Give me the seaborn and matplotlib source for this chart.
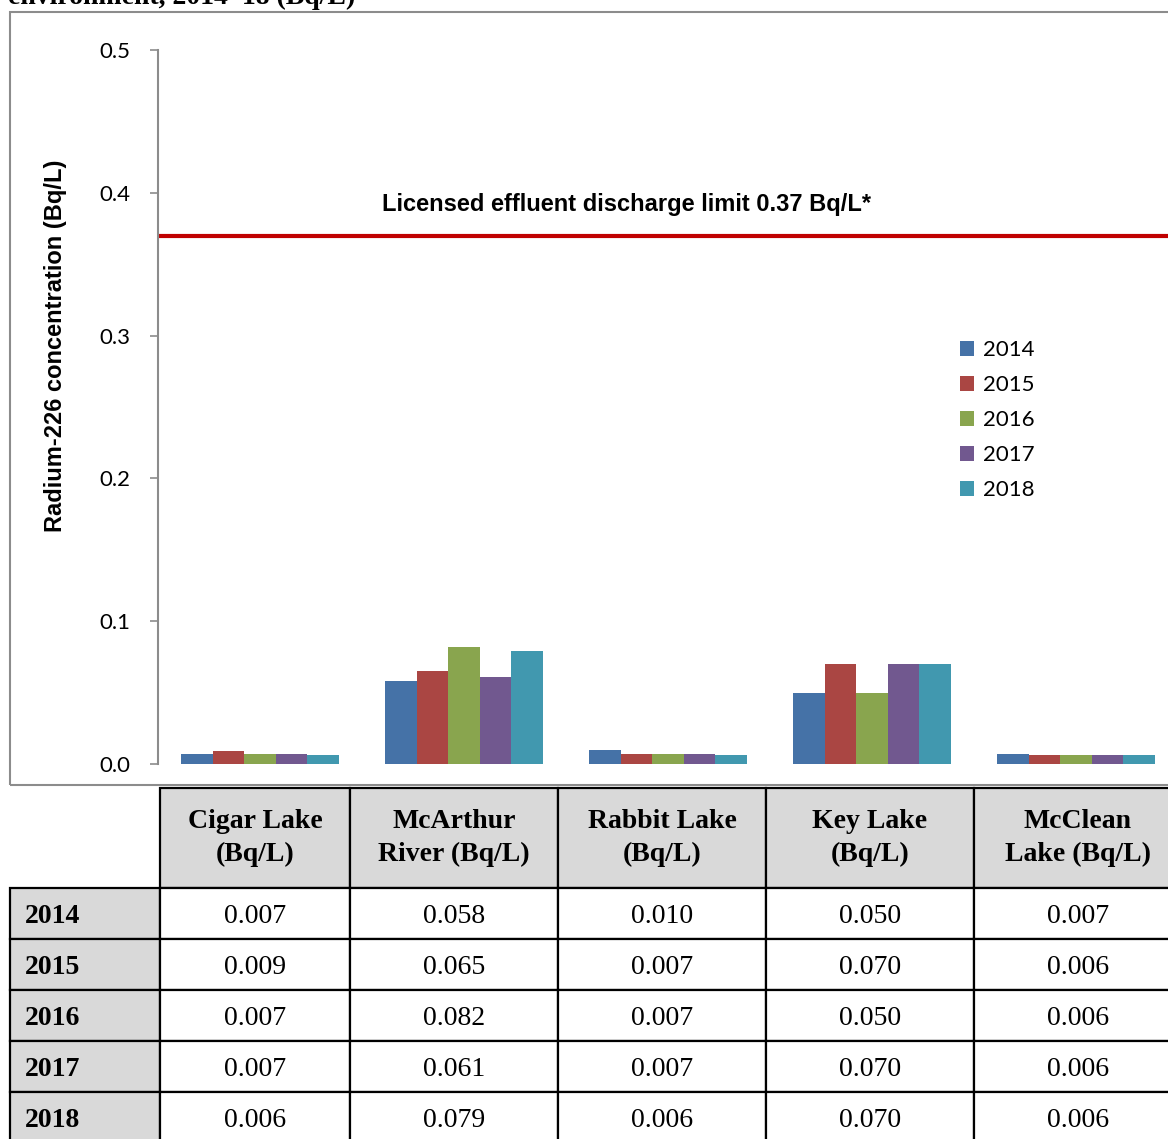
import numpy as np
import pandas as pd
import matplotlib
matplotlib.use('Agg')
import matplotlib.pyplot as plt
import seaborn as sns
from matplotlib.patches import Rectangle

sites = ['Cigar Lake', 'McArthur River', 'Rabbit Lake', 'Key Lake', 'McClean Lake']
site_headers = ['Cigar Lake\n(Bq/L)', 'McArthur\nRiver (Bq/L)', 'Rabbit Lake\n(Bq/L)',
                'Key Lake\n(Bq/L)', 'McClean\nLake (Bq/L)']
years = ['2014', '2015', '2016', '2017', '2018']
values_2014 = [0.007, 0.058, 0.010, 0.050, 0.007]
values_2015 = [0.009, 0.065, 0.007, 0.070, 0.006]
values_2016 = [0.007, 0.082, 0.007, 0.050, 0.006]
values_2017 = [0.007, 0.061, 0.007, 0.070, 0.006]
values_2018 = [0.006, 0.079, 0.006, 0.070, 0.006]
limit = 0.37
yticks = [0.0, 0.1, 0.2, 0.3, 0.4, 0.5]

colors = ['#4572A7', '#AA4643', '#89A54E', '#71588F', '#4198AF']

all_values = [values_2014, values_2015, values_2016, values_2017, values_2018]
rows = []
for yr, vals in zip(years, all_values):
    for s, v in zip(sites, vals):
        rows.append({'site': s, 'year': yr, 'value': v})
df = pd.DataFrame(rows)

W, H = 1168, 1139
fig = plt.figure(figsize=(W / 100, H / 100), dpi=100)

# chart frame (gray box)
fig.patches.append(Rectangle((10 / W, 1 - 785 / H), 1.2, (785 - 12) / H,
                             transform=fig.transFigure, fill=False,
                             edgecolor='#8c8c8c', linewidth=1.5))

# cut-off title at very top (also cut off in the original)
fig.text(8 / W, 1 - 4 / H, 'environment, 2014\u201318 (Bq/L)', fontsize=20,
         fontweight='bold', family='Liberation Serif', va='baseline', ha='left')

ax = fig.add_axes([158 / W, 1 - 764 / H, 1020 / W, 714 / H])
sns.barplot(data=df, x='site', y='value', hue='year', palette=colors,
            width=0.77, saturation=1, ax=ax, edgecolor='none', legend=True)
ax.set_xlim(-0.5, 4.5)
ax.set_ylim(0, 0.5)
ax.set_yticks(yticks)
ax.set_yticklabels([f'{t:.1f}' for t in yticks], family='Lato', fontsize=16)
ax.set_xticks([])
ax.set_xlabel('')
ax.set_ylabel('Radium-226 concentration (Bq/L)', family='Liberation Sans',
              fontweight='bold', fontsize=17)
ax.yaxis.set_label_coords(-0.089, 0.585)
for side in ['top', 'right', 'bottom']:
    ax.spines[side].set_visible(False)
ax.spines['left'].set_color('#8c8c8c')
ax.spines['left'].set_linewidth(1.5)
ax.tick_params(axis='y', direction='out', length=6, width=1.2, color='#8c8c8c', pad=14)
ax.patch.set_alpha(0)

ax.axhline(limit, color='#C00000', linewidth=3)
ax.text((626 - 158) / 1020, 0.387, 'Licensed effluent discharge limit 0.37 Bq/L*',
        transform=ax.get_yaxis_transform(),
        ha='center', va='baseline', fontsize=17, fontweight='bold',
        family='Liberation Sans')

handles, labels = ax.get_legend_handles_labels()
ax.legend(handles, labels, loc='upper left', bbox_to_anchor=(960 / W, 1 - 340 / H),
          bbox_transform=fig.transFigure, frameon=False, prop={'family': 'Lato', 'size': 16},
          handlelength=0.65, handleheight=0.65, handletextpad=0.4,
          labelspacing=0.68, borderpad=0, borderaxespad=0)

# data table below chart
tax = fig.add_axes([10 / W, 1 - 1143 / H, 1172 / W, 355 / H])
tax.axis('off')
cell_text = [[''] + site_headers]
for yr, vals in zip(years, all_values):
    cell_text.append([yr] + [f'{v:.3f}' for v in vals])
col_w = [150, 190, 208, 208, 208, 208]
tbl = tax.table(cellText=cell_text, colWidths=[c / sum(col_w) for c in col_w],
                cellLoc='center', bbox=[0, 0, 1, 1])
tbl.auto_set_font_size(False)
for (r, c), cell in tbl.get_celld().items():
    cell.set_edgecolor('black')
    cell.set_linewidth(1.6)
    cell.set_height(100 if r == 0 else 51)
    txt = cell.get_text()
    txt.set_fontfamily('Liberation Serif')
    txt.set_fontsize(20)
    txt.set_linespacing(1.45)
    if r == 0 or c == 0:
        txt.set_fontweight('bold')
        cell.set_facecolor('#D9D9D9')
    else:
        cell.set_facecolor('white')
    if r > 0:
        txt.set_va('center_baseline')
    if c == 0 and r > 0:
        cell._loc = 'left'
        txt.set_ha('left')
    if r == 0 and c == 0:
        cell.set_facecolor('white')
        cell.visible_edges = ''

fig.savefig('out.png', dpi=100)
